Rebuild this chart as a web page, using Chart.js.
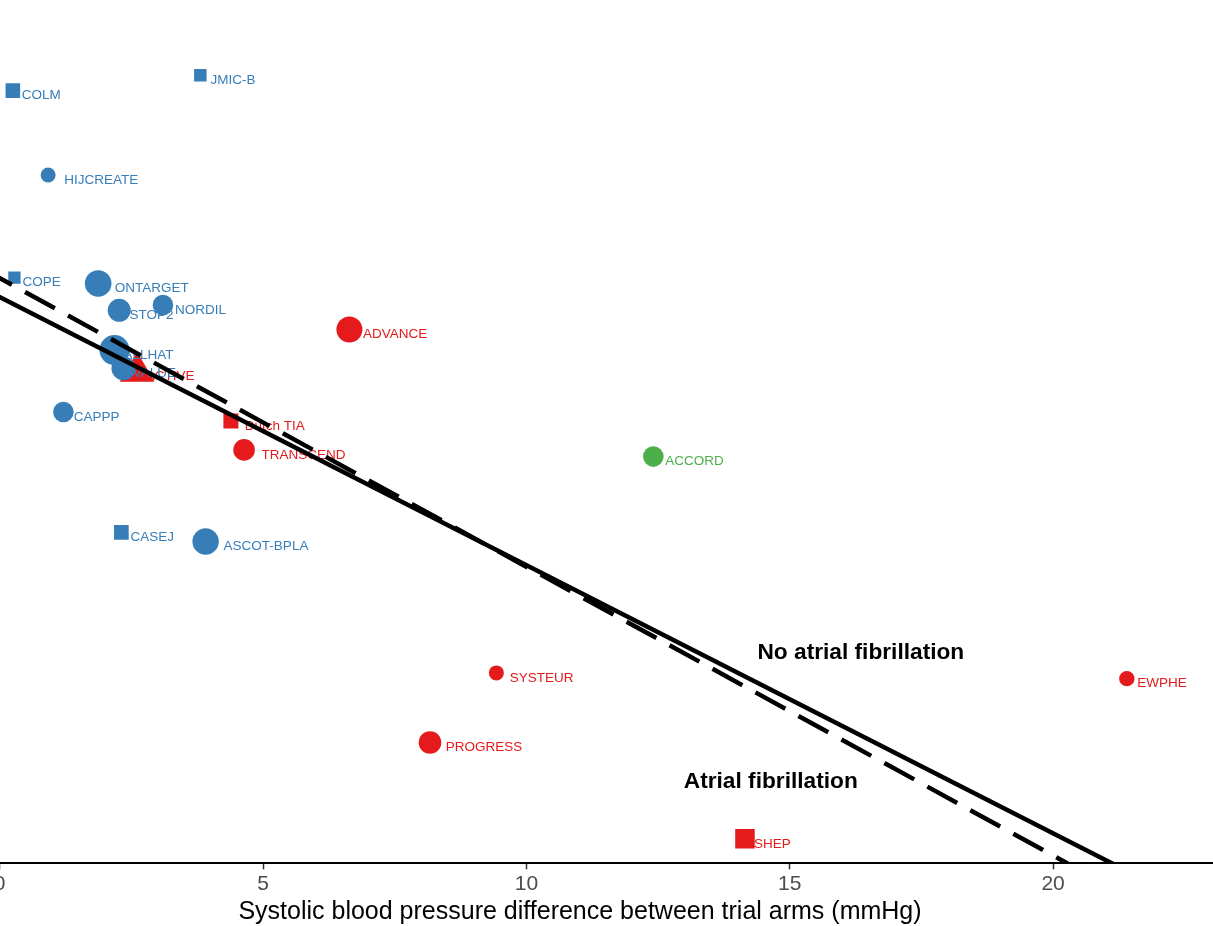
<!DOCTYPE html>
<html>
<head>
<meta charset="utf-8">
<title>Stroke risk and systolic blood pressure difference</title>
<script src="https://cdn.jsdelivr.net/npm/chart.js@4.4.1/dist/chart.umd.min.js"></script>
<style>
  html, body { margin: 0; padding: 0; background: #ffffff; overflow: hidden; }
  #wrap { position: relative; width: 1213px; height: 926px; overflow: hidden; background: #ffffff; }
  #chart { position: absolute; left: -53px; top: 0; }
</style>
</head>
<body>
<div id="wrap"><canvas id="chart" width="1266" height="926"></canvas></div>
<script>
// ---- Data -------------------------------------------------------------
const trials = ['COLM', 'JMIC-B', 'HIJCREATE', 'COPE', 'ONTARGET', 'STOP2', 'NORDIL',
  'ALLHAT', 'VALUE', 'ACTIVE', 'CAPPP', 'Dutch TIA', 'TRANSCEND', 'CASEJ', 'ASCOT-BPLA',
  'ADVANCE', 'ACCORD', 'SYSTEUR', 'PROGRESS', 'EWPHE', 'SHEP'];

// Systolic blood pressure difference between trial arms (mmHg)
const sbpDifference = [0.25, 3.81, 0.92, 0.28, 1.87, 2.27, 3.10,
  2.18, 2.35, 2.61, 1.21, 4.39, 4.64, 2.31, 3.91,
  6.64, 12.41, 9.43, 8.17, 21.40, 14.15];

// Treatment effect (log scale)
const logEffect = [0.411, 0.443, 0.235, 0.021, 0.009, -0.047, -0.036,
  -0.130, -0.168, -0.175, -0.259, -0.278, -0.338, -0.510, -0.529,
  -0.087, -0.352, -0.803, -0.948, -0.815, -1.149];

// Type of control arm
const control = ['active', 'active', 'active', 'active', 'active', 'active', 'active',
  'active', 'active', 'placebo', 'active', 'placebo', 'placebo', 'active', 'active',
  'placebo', 'target', 'placebo', 'placebo', 'placebo', 'placebo'];

// Meta-regression lines: effect = intercept + slope * SBP difference
const fitNoAF = { intercept: -0.0195, slope: -0.0559 };
const fitAF = { intercept: 0.0202, slope: -0.0602 };

const xTicks = [0, 5, 10, 15, 20];
const xRange = [-1, 23.036];
const yRange = [-1.2, 0.6];

const regionLabels = [
  { text: 'No atrial fibrillation', x: 16.35, y: -0.760 },
  { text: 'Atrial fibrillation', x: 14.64, y: -1.029 }
];

// ---- Styling ----------------------------------------------------------
const controlColour = { active: '#377EB8', placebo: '#E41A1C', target: '#4DAF4A' };
const markerShape = ['rect', 'rect', 'circle', 'rect', 'circle', 'circle', 'circle',
  'circle', 'circle', 'triangle', 'circle', 'rect', 'circle', 'rect', 'circle',
  'circle', 'circle', 'circle', 'circle', 'circle', 'rect'];
const markerRadius = [10.3, 8.8, 7.5, 8.7, 13.3, 11.5, 10.3,
  15, 12, 20, 10.3, 10.6, 10.8, 10.4, 13.2,
  13, 10.3, 7.5, 11.3, 7.7, 13.8];
const labelGap = [8.9, 10.2, 16.1, 8.2, 16.7, 10.3, 12,
  9, 9.3, 8.5, 10.3, 13.8, 17.5, 9.2, 18,
  13.6, 12, 13.3, 15.7, 10.3, 9.1];
const labelFont = '13.5px "Liberation Sans", Arial, Helvetica, sans-serif';
const regionFont = 'bold 22.7px "Liberation Sans", Arial, Helvetica, sans-serif';

// ---- Datasets ---------------------------------------------------------
function trialDataset(kind, order) {
  const idx = trials.map((_, i) => i).filter(i => control[i] === kind);
  return {
    type: 'scatter',
    label: kind,
    order: order,
    labelsAfter: kind === 'active',
    data: idx.map(i => ({ x: sbpDifference[i], y: logEffect[i] })),
    pointStyle: idx.map(i => markerShape[i]),
    pointRadius: idx.map(i => markerRadius[i]),
    pointHoverRadius: idx.map(i => markerRadius[i]),
    pointBackgroundColor: controlColour[kind],
    pointBorderWidth: 0,
    borderWidth: 0,
    showLine: false
  };
}

function fitDataset(fit, dashed) {
  return {
    type: 'line',
    label: dashed ? 'AF' : 'no AF',
    order: 0,
    data: xRange.map(x => ({ x: x, y: fit.intercept + fit.slope * x })),
    borderColor: '#000000',
    borderWidth: 4.5,
    borderDash: dashed ? [34, 15] : [],
    borderDashOffset: dashed ? 9 : 0,
    pointRadius: 0,
    tension: 0,
    fill: false
  };
}

// Trial names next to each marker, drawn under the regression lines
const trialLabels = {
  id: 'trialLabels',
  afterDatasetDraw(chart, args) {
    if (!chart.data.datasets[args.index].labelsAfter) return;
    const { ctx, scales: { x, y }, chartArea } = chart;
    ctx.save();
    ctx.beginPath();
    ctx.rect(chartArea.left, chartArea.top, chartArea.right - chartArea.left, chartArea.bottom - chartArea.top);
    ctx.clip();
    ctx.font = labelFont;
    ctx.textAlign = 'left';
    ctx.textBaseline = 'middle';
    ['placebo', 'target', 'active'].forEach(kind => {
      trials.forEach((name, i) => {
        if (control[i] !== kind) return;
        ctx.fillStyle = controlColour[kind];
        ctx.fillText(name, x.getPixelForValue(sbpDifference[i]) + labelGap[i],
          y.getPixelForValue(logEffect[i]) + 5);
      });
    });
    ctx.restore();
  }
};

// Group captions beside the two regression lines
const regionCaptions = {
  id: 'regionCaptions',
  afterDatasetsDraw(chart) {
    const { ctx, scales: { x, y } } = chart;
    ctx.save();
    ctx.font = regionFont;
    ctx.fillStyle = '#000000';
    ctx.textAlign = 'center';
    ctx.textBaseline = 'middle';
    regionLabels.forEach(r => ctx.fillText(r.text, x.getPixelForValue(r.x), y.getPixelForValue(r.y)));
    ctx.restore();
  }
};

new Chart(document.getElementById('chart'), {
  data: {
    datasets: [
      fitDataset(fitNoAF, false),
      fitDataset(fitAF, true),
      trialDataset('active', 1),
      trialDataset('target', 2),
      trialDataset('placebo', 3)
    ]
  },
  options: {
    responsive: false,
    devicePixelRatio: 1,
    animation: false,
    layout: { padding: 0, autoPadding: false },
    plugins: { legend: { display: false }, tooltip: { enabled: false } },
    scales: {
      x: {
        type: 'linear',
        min: xRange[0],
        max: xRange[1],
        afterBuildTicks: scale => { scale.ticks = xTicks.map(v => ({ value: v })); },
        grid: {
          drawOnChartArea: false,
          drawTicks: true,
          tickLength: 6,
          tickColor: '#333333',
          tickWidth: 1.5
        },
        border: { display: true, color: '#000000', width: 2 },
        ticks: {
          padding: 2,
          color: '#4D4D4D',
          font: { family: '"Liberation Sans", Arial, sans-serif', size: 21 },
          maxRotation: 0,
          autoSkip: false
        },
        title: {
          display: true,
          text: 'Systolic blood pressure difference between trial arms (mmHg)',
          color: '#000000',
          font: { family: '"Liberation Sans", Arial, sans-serif', size: 25, lineHeight: 1.1 },
          padding: { top: 0, bottom: 0 }
        }
      },
      y: {
        type: 'linear',
        display: false,
        min: yRange[0],
        max: yRange[1]
      }
    }
  },
  plugins: [trialLabels, regionCaptions]
});
</script>
</body>
</html>
